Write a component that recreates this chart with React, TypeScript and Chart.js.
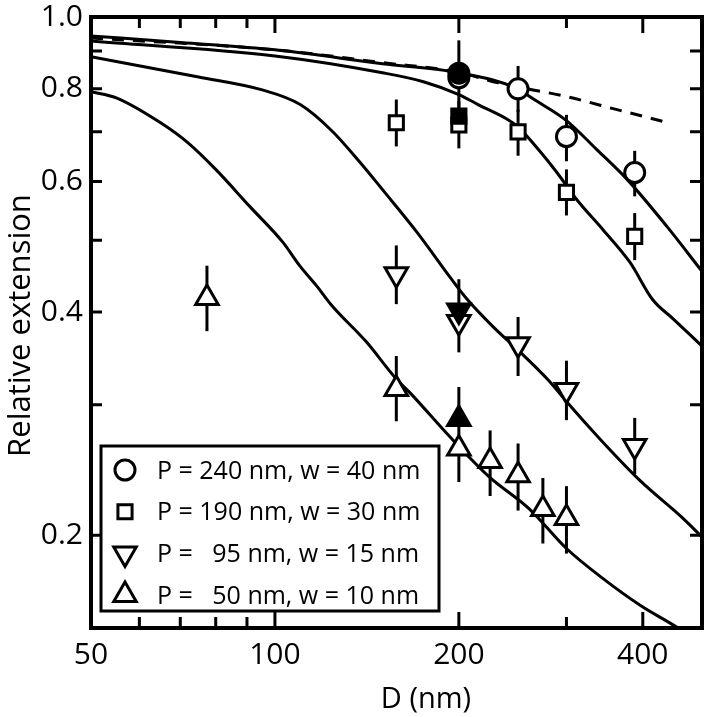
import React, { useEffect, useRef } from 'react';
import { Chart, registerables } from 'chart.js';

Chart.register(...registerables);

// ---- axis ticks ----
const xTickValues = [50, 100, 200, 400];
const xTickLabels = ['50', '100', '200', '400'];
const yTickValues = [0.2, 0.4, 0.6, 0.8, 1.0];
const yTickLabels = ['0.2', '0.4', '0.6', '0.8', '1.0'];
const xMajorMarks = [100, 200, 400];
const xMinorMarks = [60, 70, 80, 90, 300];
const yMarks = [0.2, 0.3, 0.4, 0.5, 0.6, 0.7, 0.8, 0.9];

const xTitle = 'D (nm)';
const yTitle = 'Relative extension';
const legendLabels = [
  'P = 240 nm, w = 40 nm',
  'P = 190 nm, w = 30 nm',
  'P =   95 nm, w = 15 nm',
  'P =   50 nm, w = 10 nm',
];

// ---- measured points ----
const circleD = [200, 250, 300, 388];
const circleRel = [0.828, 0.8, 0.69, 0.617];
const circleLow = [0.75, 0.745, 0.639, 0.573];
const circleHigh = [0.93, 0.859, 0.738, 0.66];
const circleFilledD = [200];
const circleFilledRel = [0.84];

const squareD = [158, 200, 250, 300, 388];
const squareRel = [0.72, 0.715, 0.7, 0.58, 0.506];
const squareLow = [0.669, 0.665, 0.65, 0.54, 0.47];
const squareHigh = [0.774, 0.77, 0.75, 0.623, 0.544];
const squareFilledD = [200];
const squareFilledRel = [0.735];

const downD = [158, 200, 250, 300, 388];
const downRel = [0.45, 0.388, 0.362, 0.314, 0.264];
const downLow = [0.41, 0.353, 0.328, 0.286, 0.242];
const downHigh = [0.492, 0.443, 0.394, 0.344, 0.288];
const downFilledD = [200];
const downFilledRel = [0.402];

const upD = [77.4, 158, 200, 225, 250, 274.5, 300];
const upRel = [0.418, 0.315, 0.262, 0.252, 0.241, 0.217, 0.211];
const upLow = [0.377, 0.285, 0.236, 0.226, 0.216, 0.195, 0.189];
const upHigh = [0.462, 0.349, 0.317, 0.277, 0.266, 0.239, 0.233];
const upFilledD = [200];
const upFilledRel = [0.287];

// ---- model curves ----
const curveAD = [50, 70, 100, 150, 200, 250, 263, 300, 336, 377, 438, 500];
const curveARel = [0.943, 0.924, 0.903, 0.865, 0.841, 0.8, 0.778, 0.725, 0.663, 0.604, 0.522, 0.454];

const curveBD = [50, 100, 150, 175, 200, 215, 240, 250, 271, 289, 312, 344, 381, 415, 448, 500];
const curveBRel = [0.928, 0.886, 0.841, 0.818, 0.786, 0.762, 0.728, 0.711, 0.66, 0.618, 0.567, 0.517, 0.467, 0.416, 0.392, 0.36];

const curveCD = [50, 75, 95, 110, 124, 138, 150, 171, 193, 206, 227, 255, 282, 300, 340, 396, 465, 500];
const curveCRel = [0.884, 0.83, 0.798, 0.762, 0.702, 0.636, 0.585, 0.512, 0.447, 0.417, 0.383, 0.35, 0.322, 0.303, 0.27, 0.237, 0.211, 0.199];

const curveDD = [50, 55, 65, 72, 80, 91, 103, 110, 117, 124, 141, 158, 166, 193, 224, 261, 300, 344, 396, 451, 480];
const curveDRel = [0.793, 0.778, 0.72, 0.677, 0.623, 0.555, 0.497, 0.461, 0.434, 0.408, 0.365, 0.325, 0.312, 0.272, 0.24, 0.217, 0.192, 0.175, 0.161, 0.151, 0.146];

const dashD = [50, 100, 150, 200, 232, 300, 363, 441];
const dashRel = [0.937, 0.903, 0.868, 0.842, 0.815, 0.781, 0.75, 0.72];

const FONT = "'Open Sans', 'DejaVu Sans', sans-serif";

const pts = (xs: number[], ys: number[]) => xs.map((x, i) => ({ x, y: ys[i] }));

function curve(xs: number[], ys: number[], dash: number[] = []) {
  return {
    data: pts(xs, ys),
    showLine: true,
    borderColor: '#000',
    borderWidth: 3,
    borderDash: dash,
    pointRadius: 0,
    cubicInterpolationMode: 'monotone',
    fill: false,
    order: 10,
  };
}

function markers(xs: number[], ys: number[], style: string, radius: number, filled: boolean, rotation = 0, low?: number[], high?: number[]) {
  return {
    data: pts(xs, ys),
    showLine: false,
    pointStyle: style,
    pointRadius: radius,
    pointRotation: rotation,
    pointBorderWidth: 3,
    pointBorderColor: '#000',
    pointBackgroundColor: filled ? '#000' : '#fff',
    errLow: low,
    errHigh: high,
    order: filled ? 1 : 5,
  };
}

function drawMarker(ctx: CanvasRenderingContext2D, kind: string, cx: number, cy: number, r: number) {
  ctx.beginPath();
  if (kind === 'circle') {
    ctx.arc(cx, cy, r, 0, Math.PI * 2);
  } else if (kind === 'rect') {
    const s = Math.SQRT1_2 * r;
    ctx.rect(cx - s, cy - s, 2 * s, 2 * s);
  } else {
    let rad = kind === 'down' ? Math.PI : 0;
    ctx.moveTo(cx + Math.sin(rad) * r, cy - Math.cos(rad) * r);
    for (let k = 0; k < 2; k++) {
      rad += (2 * Math.PI) / 3;
      ctx.lineTo(cx + Math.sin(rad) * r, cy - Math.cos(rad) * r);
    }
    ctx.closePath();
  }
  ctx.fillStyle = '#fff';
  ctx.fill();
  ctx.stroke();
}

const decorPlugin = {
  id: 'decor',
  beforeDatasetsDraw(chart: any) {
    const { ctx, scales } = chart;
    const xs = scales.x;
    const ys = scales.y;
    ctx.save();
    ctx.strokeStyle = '#000';
    ctx.lineWidth = 3;
    chart.data.datasets.forEach((ds: any) => {
      if (!ds.errLow) return;
      ds.data.forEach((p: any, i: number) => {
        const px = xs.getPixelForValue(p.x);
        ctx.beginPath();
        ctx.moveTo(px, ys.getPixelForValue(ds.errLow[i]));
        ctx.lineTo(px, ys.getPixelForValue(ds.errHigh[i]));
        ctx.stroke();
      });
    });
    ctx.restore();
  },
  afterDraw(chart: any) {
    const { ctx, chartArea: ca, scales } = chart;
    const xs = scales.x;
    const ys = scales.y;
    ctx.save();
    ctx.strokeStyle = '#000';
    ctx.fillStyle = '#000';
    // inward tick marks
    ctx.lineWidth = 3;
    const xMark = (v: number, len: number) => {
      const px = xs.getPixelForValue(v);
      ctx.beginPath();
      ctx.moveTo(px, ca.bottom);
      ctx.lineTo(px, ca.bottom - len);
      ctx.moveTo(px, ca.top);
      ctx.lineTo(px, ca.top + len);
      ctx.stroke();
    };
    xMajorMarks.forEach((v) => xMark(v, 16));
    xMinorMarks.forEach((v) => xMark(v, 11));
    yMarks.forEach((v) => {
      const py = ys.getPixelForValue(v);
      ctx.beginPath();
      ctx.moveTo(ca.left, py);
      ctx.lineTo(ca.left + 11, py);
      ctx.moveTo(ca.right, py);
      ctx.lineTo(ca.right - 12, py);
      ctx.stroke();
    });
    // frame
    ctx.lineWidth = 4;
    ctx.strokeRect(ca.left, ca.top, ca.right - ca.left, ca.bottom - ca.top);

    // axis titles
    ctx.font = `29px ${FONT}`;
    ctx.textAlign = 'center';
    ctx.textBaseline = 'alphabetic';
    ctx.fillText(xTitle, ca.left + 335, ca.bottom + 80);
    ctx.save();
    ctx.font = `31px ${FONT}`;
    ctx.translate(ca.left - 61, (ca.top + ca.bottom) / 2 + 3);
    ctx.rotate(-Math.PI / 2);
    ctx.fillText(yTitle, 0, 0);
    ctx.restore();

    // legend box
    const bx = ca.left + 10;
    const bh = 165;
    const by = ca.bottom - 17 - bh;
    const bw = 338;
    ctx.fillStyle = '#fff';
    ctx.fillRect(bx, by, bw, bh);
    ctx.lineWidth = 3;
    ctx.strokeRect(bx, by, bw, bh);
    const kinds = ['circle', 'rect', 'down', 'up'];
    const radii = [10, 10, 13, 13];
    ctx.font = `25px ${FONT}`;
    ctx.textAlign = 'left';
    legendLabels.forEach((lab, i) => {
      const cy = by + 24 + i * 41.7;
      ctx.lineWidth = 3;
      drawMarker(ctx, kinds[i], bx + 24, cy, radii[i]);
      ctx.fillStyle = '#000';
      ctx.fillText(lab, bx + 56, cy + 8.5);
    });
    ctx.restore();
  },
};

export default function App() {
  const ref = useRef<HTMLCanvasElement>(null);
  useEffect(() => {
    if (!ref.current) return;
    const chart = new Chart(ref.current, {
      type: 'scatter',
      data: {
        datasets: [
          curve(curveAD, curveARel),
          curve(curveBD, curveBRel),
          curve(curveCD, curveCRel),
          curve(curveDD, curveDRel),
          curve(dashD, dashRel, [12, 9]),
          markers(circleD, circleRel, 'circle', 10, false, 0, circleLow, circleHigh),
          markers(squareD, squareRel, 'rect', 10, false, 0, squareLow, squareHigh),
          markers(downD, downRel, 'triangle', 13, false, 180, downLow, downHigh),
          markers(upD, upRel, 'triangle', 13, false, 0, upLow, upHigh),
          markers(circleFilledD, circleFilledRel, 'circle', 10, true),
          markers(squareFilledD, squareFilledRel, 'rect', 10, true),
          markers(downFilledD, downFilledRel, 'triangle', 13, true, 180),
          markers(upFilledD, upFilledRel, 'triangle', 13, true),
        ] as any,
      },
      options: {
        animation: false,
        responsive: true,
        maintainAspectRatio: false,
        events: [],
        layout: { autoPadding: false, padding: { top: 17, right: 3, left: 0, bottom: 0 } },
        plugins: { legend: { display: false }, tooltip: { enabled: false } },
        scales: {
          x: {
            type: 'logarithmic',
            position: 'bottom',
            min: 50,
            max: 500,
            grid: { display: false, drawTicks: true, tickLength: 12 },
            border: { display: false },
            title: { display: false },
            ticks: {
              autoSkip: false,
              maxRotation: 0,
              minRotation: 0,
              padding: 0,
              color: '#000',
              font: { family: FONT, size: 30, lineHeight: 1 },
              callback: (v: any) => xTickLabels[xTickValues.indexOf(Number(v))] ?? '',
            },
            afterBuildTicks: (s: any) => {
              s.ticks = xTickValues.map((v) => ({ value: v }));
            },
            afterFit: (s: any) => {
              s.height = 89;
              s.paddingLeft = 0;
              s.paddingRight = 0;
            },
          },
          y: {
            type: 'logarithmic',
            position: 'left',
            min: 0.15,
            max: 1.0,
            grid: { display: false, drawTicks: true, tickLength: 8 },
            border: { display: false },
            title: { display: false },
            ticks: {
              autoSkip: false,
              padding: 0,
              color: '#000',
              font: { family: FONT, size: 30, lineHeight: 1 },
              callback: (v: any) => yTickLabels[yTickValues.indexOf(Number(v))] ?? '',
            },
            afterBuildTicks: (s: any) => {
              s.ticks = yTickValues.map((v) => ({ value: v }));
            },
            afterFit: (s: any) => {
              s.width = 91;
              s.paddingTop = 0;
              s.paddingBottom = 0;
            },
          },
        },
      } as any,
      plugins: [decorPlugin],
    });
    return () => chart.destroy();
  }, []);
  return (
    <div style={{ position: 'fixed', left: 0, top: 0, width: 705, height: 717, background: '#fff' }}>
      <canvas ref={ref} />
    </div>
  );
}
